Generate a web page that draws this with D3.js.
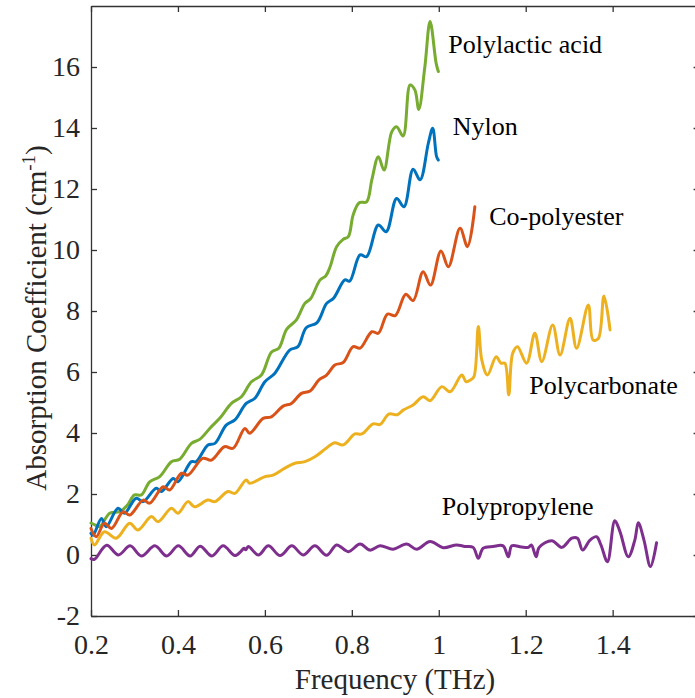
<!DOCTYPE html>
<html>
<head>
<meta charset="utf-8">
<script src="https://cdn.jsdelivr.net/npm/d3@7"></script>
<style>
  body { margin: 0; background: #fff; }
  text { font-family: "Liberation Serif", "Times New Roman", serif; fill: #262626; }
  .axis path, .axis line { stroke: #333; stroke-width: 1.3; }
  .axis text { font-size: 28px; }
  .curve { fill: none; stroke-width: 3; stroke-linejoin: round; stroke-linecap: round; }
  .lbl { font-size: 26px; fill: #000; }
</style>
</head>
<body>
<div id="container"></div>
<script>
// Hard Code values ---------- ---------- ----------
let canvasW = 695, canvasH = 698;
let xTicks = [0.2, 0.4, 0.6, 0.8, 1, 1.2, 1.4, 1.6];
let xTickLabels = ["0.2", "0.4", "0.6", "0.8", "1", "1.2", "1.4", ""];
let yTicks = [-2, 0, 2, 4, 6, 8, 10, 12, 14, 16];
let yTickLabels = ["-2", "0", "2", "4", "6", "8", "10", "12", "14", "16"];

// Polylactic acid
let plaF = [0.200,0.210,0.220,0.243,0.266,0.283,0.300,0.316,0.335,0.358,0.385,0.404,0.431,0.450,0.477,0.496,0.523,0.546,0.569,0.592,0.615,0.632,0.650,0.672,0.692,0.705,0.727,0.740,0.750,0.765,0.780,0.792,0.803,0.817,0.834,0.846,0.861,0.874,0.892,0.903,0.918,0.934,0.945,0.954,0.968,0.980,0.994,0.999];
let plaA = [1.05,0.98,0.93,1.37,1.42,1.62,1.97,1.97,2.40,2.57,3.06,3.14,3.66,3.79,4.21,4.48,4.97,5.19,5.68,5.90,6.65,6.78,7.40,7.70,8.25,8.40,9.02,9.15,9.45,10.11,10.35,10.44,11.15,11.55,11.58,12.30,13.06,12.62,13.88,14.04,13.74,15.41,15.25,14.61,16.01,17.49,16.12,15.85];

// Nylon
let nylF = [0.200,0.205,0.224,0.235,0.262,0.277,0.304,0.320,0.350,0.362,0.389,0.400,0.431,0.442,0.469,0.485,0.511,0.531,0.557,0.577,0.600,0.623,0.657,0.676,0.695,0.720,0.742,0.758,0.784,0.795,0.819,0.834,0.861,0.879,0.903,0.920,0.941,0.957,0.976,0.986,0.995,0.999];
let nylA = [0.71,0.65,1.20,0.93,1.53,1.37,1.86,1.75,2.19,2.08,2.51,2.40,3.06,3.06,3.61,3.66,4.26,4.43,4.97,5.14,5.68,5.96,6.72,6.83,7.45,7.62,8.25,8.42,9.02,8.98,9.84,9.78,10.82,10.60,11.69,11.42,12.65,12.30,13.50,13.99,13.06,12.95];

// Co-polyester
let copF = [0.200,0.212,0.231,0.247,0.274,0.289,0.320,0.335,0.366,0.381,0.408,0.423,0.457,0.477,0.507,0.527,0.554,0.565,0.596,0.615,0.642,0.661,0.684,0.704,0.725,0.742,0.761,0.780,0.803,0.819,0.846,0.861,0.882,0.900,0.924,0.941,0.964,0.981,1.005,1.022,1.049,1.066,1.083];
let copA = [0.87,0.60,1.04,0.87,1.42,1.31,1.80,1.70,2.24,2.13,2.68,2.62,3.17,3.11,3.55,3.50,4.15,3.99,4.48,4.53,4.88,4.97,5.30,5.38,5.75,5.90,6.23,6.31,6.83,6.78,7.32,7.27,7.90,7.85,8.55,8.34,9.29,8.85,9.97,9.45,10.71,10.11,11.42];

// Polycarbonate
let pcF = [0.200,0.208,0.231,0.258,0.289,0.308,0.339,0.354,0.385,0.400,0.423,0.438,0.469,0.485,0.515,0.531,0.557,0.565,0.600,0.619,0.645,0.669,0.692,0.715,0.741,0.760,0.780,0.807,0.823,0.849,0.865,0.885,0.905,0.918,0.941,0.964,0.980,1.007,1.026,1.053,1.063,1.073,1.081,1.091,1.099,1.112,1.132,1.143,1.152,1.161,1.170,1.181,1.202,1.221,1.237,1.262,1.279,1.302,1.317,1.344,1.355,1.367,1.380,1.394];
let pcA = [0.55,0.33,0.76,0.55,1.04,0.82,1.26,1.09,1.53,1.37,1.75,1.58,1.80,1.75,2.08,2.02,2.46,2.35,2.57,2.62,2.84,3.01,3.06,3.22,3.50,3.68,3.61,3.97,3.97,4.30,4.28,4.62,4.60,4.75,4.92,5.19,5.06,5.52,5.35,5.90,5.68,5.74,5.85,7.49,6.39,5.90,6.50,6.29,6.29,5.25,6.61,6.83,6.29,7.27,6.34,7.54,6.56,7.76,6.78,8.20,7.05,7.10,8.49,7.38];

// Polypropylene
let ppF = [0.200,0.208,0.236,0.263,0.290,0.316,0.347,0.374,0.401,0.428,0.451,0.478,0.504,0.531,0.545,0.552,0.556,0.562,0.585,0.608,0.635,0.662,0.688,0.715,0.742,0.765,0.792,0.819,0.842,0.865,0.895,0.926,0.949,0.980,1.010,1.041,1.060,1.079,1.091,1.102,1.125,1.148,1.160,1.168,1.190,1.206,1.213,1.224,1.231,1.260,1.283,1.306,1.319,1.331,1.348,1.363,1.373,1.388,1.405,1.417,1.436,1.451,1.459,1.472,1.487,1.501];
let ppA = [-0.12,-0.14,0.32,0.00,0.30,-0.03,0.30,-0.03,0.30,-0.03,0.29,-0.03,0.30,-0.02,0.12,0.22,0.17,0.28,0.00,0.30,-0.02,0.30,0.00,0.30,-0.01,0.33,0.11,0.36,0.16,0.30,0.19,0.36,0.19,0.44,0.24,0.33,0.28,0.25,-0.11,0.22,0.28,0.30,-0.06,0.30,0.26,0.25,0.33,-0.06,0.25,0.47,0.25,0.55,0.55,0.16,0.49,0.60,0.33,-0.22,1.12,0.76,-0.06,0.49,1.06,0.49,-0.38,0.40];

let names = ["Polylactic acid", "Nylon", "Co-polyester", "Polycarbonate", "Polypropylene"];
let colors = ["#77AC30", "#0072BD", "#D95319", "#EDB120", "#7E2F8E"];
let freqs = [plaF, nylF, copF, pcF, ppF];
let values = [plaA, nylA, copA, pcA, ppA];
// label anchor in data units (freq, value)
let labelPos = [[1.022, 16.45], [1.032, 13.77], [1.116, 10.82], [1.208, 5.28], [1.007, 1.31]];

//Initialize ---------- ---------- ----------
let svg = d3.select("#container").append("svg").attr("width", canvasW).attr("height", canvasH);
let xScale = d3.scaleLinear().domain([0.2, 1.6]).range([91, 699.6]);
let yScale = d3.scaleLinear().domain([-2, 18]).range([616, 6]);

// Axes (box with inward ticks)
svg.append("g").attr("class", "axis").attr("transform", "translate(0,616)")
    .call(d3.axisBottom(xScale).tickValues(xTicks).tickSizeInner(-6).tickSizeOuter(0).tickPadding(18).tickFormat((d, i) => xTickLabels[i]));
svg.append("g").attr("class", "axis").attr("transform", "translate(0,6)")
    .call(d3.axisTop(xScale).tickValues(xTicks).tickSizeInner(-6).tickSizeOuter(0).tickFormat(""));
svg.append("g").attr("class", "axis").attr("transform", "translate(91,0)")
    .call(d3.axisLeft(yScale).tickValues(yTicks).tickSizeInner(-6).tickSizeOuter(0).tickPadding(11).tickFormat((d, i) => yTickLabels[i]));
svg.append("g").attr("class", "axis").attr("transform", "translate(699.6,0)")
    .call(d3.axisRight(yScale).tickValues(yTicks).tickSizeInner(-6).tickSizeOuter(0).tickFormat(""));
svg.selectAll(".axis text").style("font-family", "'Liberation Serif', 'Times New Roman', serif").attr("fill", "#262626");

// Axis titles
svg.append("text").attr("x", 395).attr("y", 689).attr("text-anchor", "middle").style("font-size", "29px")
    .text("Frequency (THz)");
let yl = svg.append("text").attr("transform", "translate(46,318) rotate(-90)").attr("text-anchor", "middle").style("font-size", "29px");
yl.append("tspan").text("Absorption Coefficient (cm");
yl.append("tspan").attr("dy", -11).style("font-size", "19px").text("-1");
yl.append("tspan").attr("dy", 11).text(")");

// Draw lines ---------- ---------- ----------
let linePath = d3.line().x(d => xScale(d[0])).y(d => yScale(d[1])).curve(d3.curveCatmullRom.alpha(0.5));
names.forEach((n, i) => {
    let pts = freqs[i].map((f, j) => [f, values[i][j]]);
    svg.append("path").datum(pts).attr("class", "curve").attr("stroke", colors[i]).attr("d", linePath);
});

// Curve labels
svg.selectAll(".lbl").data(names).enter().append("text").attr("class", "lbl")
    .attr("x", (d, i) => xScale(labelPos[i][0])).attr("y", (d, i) => yScale(labelPos[i][1]))
    .text(d => d);
</script>
</body>
</html>
